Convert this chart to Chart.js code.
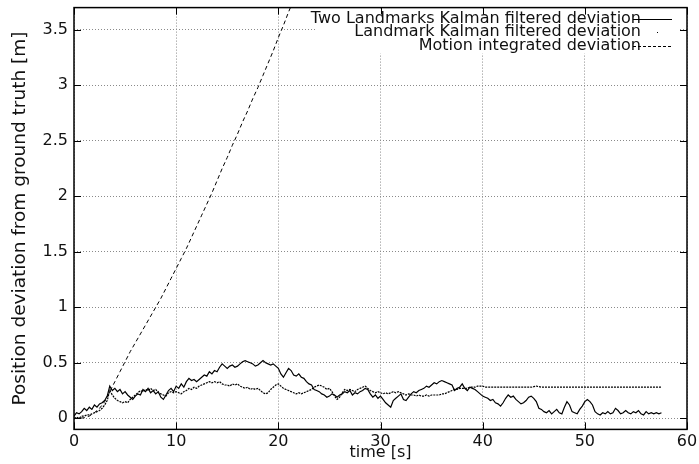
<!DOCTYPE html>
<html>
<head>
<meta charset="utf-8">
<script src="https://cdn.jsdelivr.net/npm/chart.js@4.4.0/dist/chart.umd.min.js"></script>
<style>
    html, body { margin: 0; padding: 0; background: #fff; }
</style>
</head>
<body>
<canvas id="chart-deviation" width="699" height="464"></canvas>
<script>
// samples every 0.25 s for the two filtered runs
const sampleStep = 0.25;

const twoLandmarksDev = [
    0.02, 0.05, 0.04, 0.06,  0.09, 0.07, 0.10, 0.08,  0.12, 0.10, 0.13, 0.14,
    0.16, 0.20, 0.29, 0.25,  0.27, 0.24, 0.26, 0.22,  0.24, 0.21, 0.19, 0.17,
    0.20, 0.22, 0.21, 0.26,  0.24, 0.27, 0.23, 0.25,  0.22, 0.24, 0.19, 0.17,
    0.21, 0.25, 0.27, 0.24,  0.29, 0.27, 0.31, 0.28,  0.33, 0.36, 0.34, 0.35,
    0.33, 0.35, 0.37, 0.39,  0.38, 0.42, 0.40, 0.43,  0.42, 0.46, 0.49, 0.47,
    0.45, 0.47, 0.48, 0.46,  0.47, 0.49, 0.51, 0.52,  0.51, 0.50, 0.49, 0.47,
    0.48, 0.50, 0.52, 0.50,  0.49, 0.48, 0.49, 0.47,  0.45, 0.40, 0.37, 0.41,
    0.45, 0.43, 0.39, 0.38,  0.40, 0.37, 0.36, 0.33,  0.31, 0.30, 0.26, 0.25,
    0.24, 0.22, 0.21, 0.19,  0.20, 0.22, 0.21, 0.19,  0.21, 0.22, 0.24, 0.23,
    0.25, 0.21, 0.23, 0.22,  0.24, 0.25, 0.27, 0.26,  0.22, 0.19, 0.21, 0.18,
    0.20, 0.17, 0.14, 0.12,  0.10, 0.16, 0.18, 0.20,  0.22, 0.17, 0.16, 0.19,
    0.22, 0.24, 0.23, 0.25,  0.26, 0.27, 0.29, 0.28,  0.30, 0.32, 0.31, 0.33,
    0.34, 0.33, 0.32, 0.31,  0.30, 0.25, 0.27, 0.28,  0.31, 0.27, 0.25, 0.28,
    0.27, 0.26, 0.24, 0.22,  0.20, 0.19, 0.18, 0.16,  0.17, 0.14, 0.13, 0.11,
    0.14, 0.18, 0.21, 0.19,  0.20, 0.17, 0.15, 0.13,  0.14, 0.16, 0.19, 0.20,
    0.18, 0.15, 0.09, 0.08,  0.06, 0.05, 0.07, 0.04,  0.06, 0.08, 0.05, 0.04,
    0.10, 0.15, 0.12, 0.06,  0.05, 0.04, 0.08, 0.11,  0.15, 0.17, 0.15, 0.12,
    0.06, 0.04, 0.03, 0.05,  0.04, 0.06, 0.04, 0.05,  0.09, 0.07, 0.04, 0.05,
    0.07, 0.05, 0.04, 0.06,  0.05, 0.07, 0.04, 0.03,  0.06, 0.04, 0.05, 0.04,
    0.05, 0.04, 0.05
];

const oneLandmarkDev = [
    0.00, 0.01, 0.00, 0.02,  0.02, 0.03, 0.03, 0.04,  0.05, 0.06, 0.07, 0.09,
    0.12, 0.16, 0.25, 0.21,  0.18, 0.16, 0.15, 0.14,  0.15, 0.14, 0.17, 0.19,
    0.21, 0.23, 0.25, 0.24,  0.26, 0.25, 0.27, 0.25,  0.26, 0.23, 0.22, 0.21,
    0.20, 0.23, 0.24, 0.23,  0.24, 0.23, 0.22, 0.24,  0.25, 0.27, 0.26, 0.28,
    0.27, 0.29, 0.30, 0.31,  0.32, 0.33, 0.32, 0.33,  0.32, 0.33, 0.31, 0.30,
    0.30, 0.29, 0.31, 0.30,  0.31, 0.29, 0.28, 0.27,  0.28, 0.26, 0.27, 0.26,
    0.27, 0.25, 0.23, 0.22,  0.23, 0.26, 0.28, 0.30,  0.31, 0.29, 0.27, 0.26,
    0.25, 0.24, 0.23, 0.22,  0.23, 0.22, 0.23, 0.24,  0.25, 0.26, 0.28, 0.29,
    0.30, 0.29, 0.28, 0.26,  0.27, 0.24, 0.20, 0.17,  0.19, 0.23, 0.26, 0.25,
    0.26, 0.25, 0.24, 0.26,  0.27, 0.28, 0.29, 0.27,  0.25, 0.24, 0.23, 0.24,
    0.23, 0.22, 0.23, 0.22,  0.23, 0.24, 0.23, 0.24,  0.23, 0.22, 0.21, 0.22,
    0.21, 0.21, 0.20, 0.21,  0.20, 0.20, 0.21, 0.20,  0.21, 0.21, 0.21, 0.21,
    0.22, 0.22, 0.23, 0.24,  0.25, 0.26, 0.26, 0.27,  0.27, 0.27, 0.27, 0.28,
    0.28, 0.28, 0.29, 0.29,  0.29, 0.28, 0.28, 0.28,  0.28, 0.28, 0.28, 0.28,
    0.28, 0.28, 0.28, 0.28,  0.28, 0.28, 0.28, 0.28,  0.28, 0.28, 0.28, 0.28,
    0.285, 0.29, 0.285, 0.28, 0.28, 0.28, 0.28, 0.28, 0.28, 0.28, 0.28, 0.28,
    0.28, 0.28, 0.28, 0.28,  0.28, 0.28, 0.28, 0.28,  0.282, 0.28, 0.28, 0.28,
    0.28, 0.28, 0.28, 0.28,  0.28, 0.28, 0.28, 0.28,  0.28, 0.28, 0.28, 0.28,
    0.28, 0.28, 0.28, 0.28,  0.28, 0.28, 0.28, 0.28,  0.28, 0.28, 0.28, 0.28,
    0.28, 0.28, 0.28
];

// dead reckoning only, runs off the top after ~21 s
const motionTimes = [0, 0.5, 1, 1.5, 2, 2.5, 3, 3.5, 4, 4.5, 5, 5.5, 6, 6.5, 7, 7.5, 8, 8.5, 9, 9.5,
    10, 10.5, 11, 11.5, 12, 12.5, 13, 13.5, 14, 14.5, 15, 15.5, 16, 16.5, 17, 17.5, 18, 18.5, 19, 19.5,
    20, 20.5, 21, 21.5, 22];
const motionDev = [0, 0, 0.005, 0.02, 0.05, 0.09, 0.15, 0.24, 0.33, 0.42, 0.51, 0.60, 0.68, 0.76, 0.84, 0.92,
    1.00, 1.08, 1.17, 1.26, 1.35, 1.44, 1.53, 1.63, 1.73, 1.83, 1.93, 2.03, 2.14, 2.25, 2.35, 2.46,
    2.56, 2.67, 2.77, 2.88, 2.98, 3.09, 3.20, 3.31, 3.43, 3.54, 3.66, 3.77, 3.89];

const xTicks = [0, 10, 20, 30, 40, 50, 60];
const yTicks = [0, 0.5, 1, 1.5, 2, 2.5, 3, 3.5];
const keyLabels = ['Two Landmarks Kalman filtered deviation', 'Landmark Kalman filtered deviation', 'Motion integrated deviation'];

const fontFamily = '"DejaVu Sans", sans-serif';
const textColor = '#111';

function stepped(values) {
    return values.map((v, i) => ({x: i * sampleStep, y: v}));
}

function paired(xs, ys) {
    return xs.map((x, i) => ({x: x, y: ys[i]}));
}

// frame with inward ticks on all sides, plus an opaque key in the top right
const gnuplotFrame = {
    id: 'gnuplotFrame',
    beforeDatasetsDraw(chart) {
        const ctx = chart.ctx;
        const area = chart.chartArea;
        ctx.save();
        ctx.fillStyle = '#fff';
        ctx.fillRect(area.right - 372, area.top + 1, 365, 45);
        ctx.restore();
    },
    afterDatasetsDraw(chart) {
        const ctx = chart.ctx;
        const area = chart.chartArea;
        const xs = chart.scales.x;
        const ys = chart.scales.y;
        const tick = 7;
        ctx.save();
        ctx.strokeStyle = '#000';
        ctx.lineWidth = 1;
        ctx.beginPath();
        xTicks.forEach(v => {
            const px = Math.round(xs.getPixelForValue(v)) + 0.5;
            ctx.moveTo(px, area.bottom); ctx.lineTo(px, area.bottom - tick);
            ctx.moveTo(px, area.top); ctx.lineTo(px, area.top + tick);
        });
        yTicks.forEach(v => {
            const py = Math.round(ys.getPixelForValue(v)) + 0.5;
            ctx.moveTo(area.left, py); ctx.lineTo(area.left + tick, py);
            ctx.moveTo(area.right, py); ctx.lineTo(area.right - tick, py);
        });
        ctx.stroke();
        ctx.lineWidth = 1.5;
        ctx.strokeRect(area.left, area.top, area.right - area.left, area.bottom - area.top);

        // key
        ctx.font = '16px ' + fontFamily;
        ctx.textAlign = 'right';
        ctx.textBaseline = 'middle';
        const textRight = area.right - 46;
        chart.data.datasets.forEach((ds, i) => {
            const y = area.top + 11 + i * 13.5;
            ctx.fillStyle = textColor;
            ctx.fillText(keyLabels[i], textRight, y);
            ctx.strokeStyle = '#000';
            ctx.lineWidth = 1;
            ctx.setLineDash(ds.keyDash || []);
            ctx.lineDashOffset = ds.keyDashOffset || 0;
            ctx.beginPath();
            ctx.moveTo(textRight - 8, Math.round(y) + 0.5);
            ctx.lineTo(textRight + 31, Math.round(y) + 0.5);
            ctx.stroke();
        });
        ctx.restore();
    }
};

const ctx = document.getElementById('chart-deviation');
new Chart(ctx, {
    type: 'line',
    data: {
        datasets: [{
            label: keyLabels[0],
            data: stepped(twoLandmarksDev),
            borderColor: '#000',
            borderWidth: 1.2
        }, {
            label: keyLabels[1],
            data: stepped(oneLandmarkDev),
            borderColor: '#000',
            borderWidth: 1.2,
            borderDash: [2, 1],
            keyDash: [1, 40],
            keyDashOffset: 17
        }, {
            label: keyLabels[2],
            data: paired(motionTimes, motionDev),
            borderColor: '#000',
            borderWidth: 1,
            borderDash: [4, 3],
            keyDash: [3, 2]
        }]
    },
    options: {
        responsive: false,
        animation: false,
        layout: {
            padding: {top: 7.6, right: 12, bottom: 0, left: 0}
        },
        elements: {
            point: {radius: 0},
            line: {tension: 0}
        },
        plugins: {
            legend: {display: false},
            tooltip: {enabled: false}
        },
        scales: {
            x: {
                type: 'linear',
                min: 0,
                max: 60,
                afterBuildTicks: (scale) => { scale.ticks = xTicks.map(v => ({value: v})); },
                afterFit: (scale) => {
                    scale.height = 34.6;
                    scale.paddingLeft = 0;
                    scale.paddingRight = 0;
                },
                grid: {color: '#8a8a8a', lineWidth: 1, drawTicks: false},
                border: {display: false, dash: [1, 2]},
                ticks: {
                    padding: 3,
                    maxRotation: 0,
                    color: textColor,
                    font: {family: fontFamily, size: 16},
                    callback: (v) => String(v)
                },
                title: {
                    display: true,
                    text: 'time [s]',
                    color: textColor,
                    font: {family: fontFamily, size: 16},
                    padding: {top: 0, bottom: 2}
                }
            },
            y: {
                type: 'linear',
                min: -0.1,
                max: 3.7,
                afterBuildTicks: (scale) => { scale.ticks = yTicks.map(v => ({value: v})); },
                afterFit: (scale) => {
                    scale.width = 74;
                    scale.paddingTop = 0;
                    scale.paddingBottom = 0;
                },
                grid: {color: '#8a8a8a', lineWidth: 1, drawTicks: false},
                border: {display: false, dash: [1, 2]},
                ticks: {
                    padding: 6,
                    color: textColor,
                    font: {family: fontFamily, size: 16},
                    callback: (v) => String(v)
                },
                title: {
                    display: true,
                    text: 'Position deviation from ground truth [m]',
                    color: textColor,
                    font: {family: fontFamily, size: 18.5},
                    padding: {top: 9, bottom: 0}
                }
            }
        }
    },
    plugins: [gnuplotFrame]
});
</script>
</body>
</html>
